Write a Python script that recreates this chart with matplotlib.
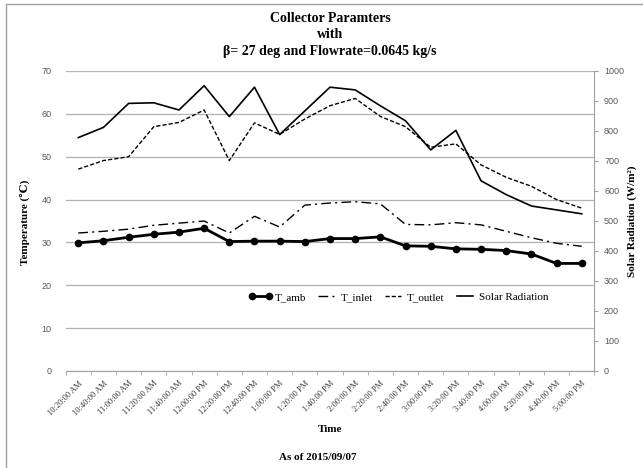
import numpy as np
import matplotlib
matplotlib.use("Agg")
import matplotlib.pyplot as plt
from matplotlib.lines import Line2D
from matplotlib.ticker import FixedLocator

# readings every 20 min on 2015/09/07
times = ["10:20:00 AM", "10:40:00 AM", "11:00:00 AM", "11:20:00 AM", "11:40:00 AM",
         "12:00:00 PM", "12:20:00 PM", "12:40:00 PM", "1:00:00 PM", "1:20:00 PM",
         "1:40:00 PM", "2:00:00 PM", "2:20:00 PM", "2:40:00 PM", "3:00:00 PM",
         "3:20:00 PM", "3:40:00 PM", "4:00:00 PM", "4:20:00 PM", "4:40:00 PM", "5:00:00 PM"]
t_amb = [29.9, 30.4, 31.2, 31.9, 32.4, 33.3, 30.2, 30.3, 30.3, 30.2, 30.9,
         30.9, 31.3, 29.2, 29.1, 28.5, 28.4, 28.1, 27.3, 25.1, 25.1]
t_inlet = [32.2, 32.6, 33.1, 34.0, 34.5, 35.0, 32.2, 36.1, 33.6, 38.7, 39.2,
           39.5, 39.0, 34.2, 34.1, 34.6, 34.1, 32.6, 31.1, 29.8, 29.1]
t_outlet = [47.1, 49.1, 50.0, 57.0, 58.0, 60.9, 49.1, 57.9, 55.2, 58.8, 61.9,
            63.6, 59.4, 57.0, 52.2, 53.0, 48.1, 45.2, 43.1, 40.0, 38.0]
solar = [778, 812, 892, 894, 870, 951, 848, 946, 788, 867, 946,
         937, 884, 834, 737, 802, 634, 588, 550, 537, 524]

SERIF = ["Liberation Serif", "DejaVu Serif"]
GRID, AXC, TXT = "#b3b3b3", "#a0a0a0", "#595959"

W, H = 643, 468
fig = plt.figure(figsize=(W / 100, H / 100), dpi=100)
ax = fig.add_axes([65.7 / W, 1 - 371 / H, (594.3 - 65.7) / W, 300 / H])
ax2 = ax.twinx()

x = np.arange(len(times))
l1, = ax.plot(x, t_amb, color="black", lw=2.0, marker="o", ms=4.5, label="T_amb", zorder=4)
l2, = ax.plot(x, t_inlet, color="black", lw=1.0, ls=(0, (7, 3, 1.5, 3)), label="T_inlet")
l3, = ax.plot(x, t_outlet, color="black", lw=1.0, ls=(0, (3, 1.5)), label="T_outlet")
l4, = ax2.plot(x, solar, color="black", lw=1.2, label="Solar Radiation")

ax.set_xlim(-0.5, len(times) - 0.5)
ax.set_ylim(0, 70)
ax2.set_ylim(0, 1000)
ax.set_yticks(np.arange(0, 71, 10))
ax2.set_yticks(np.arange(0, 1001, 100))
ax.grid(axis="y", color=GRID, lw=0.9)
ax.set_axisbelow(True)

for a in (ax, ax2):
    for s in ("top", "left", "right"):
        a.spines[s].set_visible(False)
    a.spines["bottom"].set_color(AXC)
ax2.spines["right"].set_visible(True)
ax2.spines["right"].set_color(AXC)
ax2.spines["bottom"].set_visible(False)

ax.tick_params(axis="y", length=0, pad=10, labelsize=6.5, labelcolor=TXT)
ax2.tick_params(axis="y", length=3, color=AXC, pad=4, labelsize=6.5, labelcolor=TXT)
for lab in ax.get_yticklabels() + ax2.get_yticklabels():
    lab.set_family("Liberation Sans")

ax.set_xticks(x)
ax.set_xticklabels(times, rotation=45, ha="right", va="top", rotation_mode="anchor",
                   fontsize=6, family=SERIF, color="#333333")
ax.xaxis.set_minor_locator(FixedLocator(np.arange(-0.5, len(times), 1.0)))
ax.tick_params(axis="x", which="major", length=0, pad=6)
ax.tick_params(axis="x", which="minor", length=3, color=AXC)

leg = ax.legend(handles=[l1, l2, l3, l4], loc="center", bbox_to_anchor=(0.63, 0.247),
                ncol=4, frameon=False, numpoints=2, handlelength=2.1, handletextpad=0.2,
                columnspacing=0.8, prop={"family": SERIF, "size": 8})

title_lines = ["Collector Paramters", "with", "β= 27 deg and Flowrate=0.0645 kg/s"]
for yy, txt in zip([18, 35, 52], title_lines):
    fig.text(330 / W, 1 - yy / H, txt, ha="center", va="center",
             fontsize=10, fontweight="bold", family=SERIF)

fig.text(25 / W, 1 - 222 / H, "Temperature (℃)", rotation=90, ha="center", va="center",
         fontsize=8, fontweight="bold", family=SERIF)
fig.text(632 / W, 1 - 221 / H, "Solar Radiation (W/m²)", rotation=90, ha="center",
         va="center", fontsize=8, fontweight="bold", family=SERIF)
fig.text(330 / W, 1 - 430 / H, "Time", ha="center", va="center",
         fontsize=8, fontweight="bold", family=SERIF)
fig.text(318 / W, 1 - 457 / H, "As of 2015/09/07", ha="center", va="center",
         fontsize=8, fontweight="bold", family=SERIF)

# chart area border (top and left edges)
fig.add_artist(Line2D([6 / W, 6 / W], [0, 1 - 4 / H], color=AXC, lw=1.0))
fig.add_artist(Line2D([6 / W, 1], [1 - 4 / H, 1 - 4 / H], color=AXC, lw=1.0))

fig.savefig("out.png", dpi=100, facecolor="white")
